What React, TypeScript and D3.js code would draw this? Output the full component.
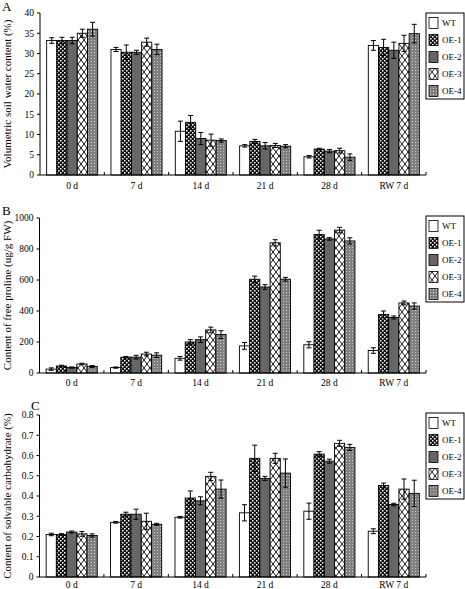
import React from "react";
import * as d3 from "d3";

const categories = ["0 d", "7 d", "14 d", "21 d", "28 d", "RW 7 d"];
const seriesNames = ["WT", "OE-1", "OE-2", "OE-3", "OE-4"];

const waterValues = [
  [33.2, 31.0, 10.8, 7.2, 4.5, 32.0],
  [33.2, 30.3, 13.0, 8.3, 6.4, 31.5],
  [33.2, 30.3, 9.0, 7.2, 5.9, 30.8],
  [35.0, 32.8, 8.6, 7.3, 6.0, 32.5],
  [36.0, 31.0, 8.5, 7.1, 4.4, 34.9],
];
const waterErrors = [
  [0.7, 0.5, 2.5, 0.3, 0.3, 1.2],
  [0.8, 1.8, 1.7, 0.5, 0.2, 2.0],
  [0.8, 0.5, 1.5, 0.8, 0.4, 2.0],
  [1.0, 1.0, 1.5, 0.5, 0.6, 2.0],
  [1.7, 1.3, 0.4, 0.4, 0.8, 2.3],
];
const waterTicks = [0, 5, 10, 15, 20, 25, 30, 35, 40];

const prolineValues = [
  [25, 35, 95, 175, 182, 145],
  [45, 102, 200, 605, 893, 378],
  [35, 102, 215, 555, 865, 358],
  [58, 122, 278, 840, 922, 452],
  [42, 115, 248, 605, 852, 432],
];
const prolineErrors = [
  [8, 4, 12, 22, 20, 18],
  [5, 5, 15, 20, 28, 22],
  [4, 12, 18, 15, 8, 10],
  [5, 12, 18, 20, 18, 12],
  [6, 15, 25, 12, 20, 20],
];
const prolineTicks = [0, 200, 400, 600, 800, 1000];

const carbValues = [
  [0.21, 0.27, 0.295, 0.317, 0.325, 0.226],
  [0.21, 0.31, 0.39, 0.586, 0.607, 0.452],
  [0.222, 0.31, 0.376, 0.487, 0.572, 0.358],
  [0.213, 0.275, 0.497, 0.586, 0.66, 0.434],
  [0.205, 0.26, 0.434, 0.513, 0.64, 0.413],
];
const carbErrors = [
  [0.006, 0.004, 0.004, 0.04, 0.04, 0.012],
  [0.004, 0.01, 0.035, 0.065, 0.012, 0.012],
  [0.005, 0.025, 0.02, 0.01, 0.01, 0.006],
  [0.012, 0.04, 0.02, 0.025, 0.015, 0.05],
  [0.008, 0.005, 0.045, 0.07, 0.015, 0.065],
];
const carbTicks = [0, 0.1, 0.2, 0.3, 0.4, 0.5, 0.6, 0.7, 0.8];

const fills = ["#ffffff", "url(#pOE1)", "#666666", "url(#pOE3)", "url(#pOE4)"];
const FONT = "'Liberation Serif', 'Times New Roman', serif";

type PanelProps = {
  letter: string;
  letterX: number;
  letterY: number;
  ylabel: string;
  values: number[][];
  errors: number[][];
  ticks: number[];
  tickFmt: (v: number) => string;
  top: number;
  bottom: number;
  left: number;
  legendTop: number;
  catLabelY: number;
};

function Panel(p: PanelProps) {
  const right = 426;
  const x = d3.scaleBand<string>().domain(categories).range([p.left, right]).paddingInner(0).paddingOuter(0);
  const inner = d3
    .scaleBand<string>()
    .domain(seriesNames)
    .range([0, x.bandwidth()])
    .paddingOuter(0.65)
    .paddingInner(0);
  const maxT = p.ticks[p.ticks.length - 1];
  const y = d3.scaleLinear().domain([0, maxT]).range([p.bottom, p.top]);
  const bw = inner.bandwidth();
  const midY = (p.top + p.bottom) / 2;
  return (
    <g>
      <text x={p.letterX} y={p.letterY} fontSize={13} fontFamily={FONT}>
        {p.letter}
      </text>
      <text
        transform={`translate(${11},${midY}) rotate(-90)`}
        textAnchor="middle"
        fontSize={11}
        fontFamily={FONT}
      >
        {p.ylabel}
      </text>
      {seriesNames.map((s, si) =>
        categories.map((c, ci) => {
          const v = p.values[si][ci];
          const e = p.errors[si][ci];
          const bx = (x(c) as number) + (inner(s) as number);
          const cx = bx + bw / 2;
          return (
            <g key={s + c}>
              <rect
                x={bx}
                y={y(v)}
                width={bw}
                height={p.bottom - y(v)}
                fill={fills[si]}
                stroke="#000"
                strokeWidth={0.9}
              />
              <line x1={cx} x2={cx} y1={y(v + e)} y2={y(Math.max(0, v - e))} stroke="#000" strokeWidth={1} />
              <line x1={cx - 2.5} x2={cx + 2.5} y1={y(v + e)} y2={y(v + e)} stroke="#000" strokeWidth={1} />
              <line
                x1={cx - 2.5}
                x2={cx + 2.5}
                y1={y(Math.max(0, v - e))}
                y2={y(Math.max(0, v - e))}
                stroke="#000"
                strokeWidth={1}
              />
            </g>
          );
        })
      )}
      <line x1={p.left} x2={p.left} y1={p.top} y2={p.bottom} stroke="#000" strokeWidth={1} />
      {p.ticks.map((t) => (
        <g key={t}>
          <line x1={p.left - 3} x2={p.left} y1={y(t)} y2={y(t)} stroke="#000" strokeWidth={1} />
          <text
            x={p.left - 6}
            y={y(t)}
            dy="0.35em"
            textAnchor="end"
            fontSize={9.5}
            fontFamily={FONT}
          >
            {p.tickFmt(t)}
          </text>
        </g>
      ))}
      <line x1={p.left} x2={right} y1={p.bottom} y2={p.bottom} stroke="#000" strokeWidth={1} />
      {categories.map((c, i) => (
        <g key={c}>
          {i > 0 && (
            <line
              x1={x(c) as number}
              x2={x(c) as number}
              y1={p.bottom}
              y2={p.bottom - 3}
              stroke="#000"
              strokeWidth={1}
            />
          )}
          <text
            x={(x(c) as number) + x.bandwidth() / 2}
            y={p.catLabelY}
            textAnchor="middle"
            fontSize={9.5}
            fontFamily={FONT}
          >
            {c}
          </text>
        </g>
      ))}
      <line x1={right} x2={right} y1={p.bottom} y2={p.bottom - 3} stroke="#000" strokeWidth={1} />
      <rect x={426} y={p.legendTop} width={38} height={86} fill="#fff" stroke="#000" strokeWidth={1} />
      {seriesNames.map((s, si) => {
        const cy = p.legendTop + 10 + si * 17;
        return (
          <g key={s}>
            <rect x={429} y={cy - 5.5} width={9} height={11} fill={fills[si]} stroke="#000" strokeWidth={0.8} />
            <text x={442} y={cy} dy="0.35em" fontSize={9} fontFamily={FONT}>
              {s}
            </text>
          </g>
        );
      })}
    </g>
  );
}

export default function App() {
  return (
    <svg
      width={465}
      height={589}
      style={{ position: "absolute", left: 0, top: 0, background: "#fff" }}
    >
      <defs>
        <pattern id="pOE1" width={4} height={4} patternUnits="userSpaceOnUse">
          <rect width={4} height={4} fill="#111" />
          <rect x={0} y={0} width={1.5} height={1.5} fill="#fff" />
          <rect x={2} y={2} width={1.5} height={1.5} fill="#fff" />
        </pattern>
        <pattern id="pOE3" width={6} height={8} patternUnits="userSpaceOnUse">
          <rect width={6} height={8} fill="#fff" />
          <path d="M0,0 L6,8 M6,0 L0,8" stroke="#000" strokeWidth={0.9} />
        </pattern>
        <pattern id="pOE4" width={3} height={3} patternUnits="userSpaceOnUse">
          <rect width={3} height={3} fill="#808080" />
          <rect x={1} y={1} width={1} height={1} fill="#cccccc" />
        </pattern>
      </defs>
      <rect width={465} height={589} fill="#fff" />
      <Panel
        letter="A"
        letterX={2}
        letterY={11}
        ylabel="Volumetric soil water content (%)"
        values={waterValues}
        errors={waterErrors}
        ticks={waterTicks}
        tickFmt={(v) => String(v)}
        top={13}
        bottom={175}
        left={40}
        legendTop={13}
        catLabelY={189}
      />
      <Panel
        letter="B"
        letterX={2}
        letterY={215}
        ylabel="Content of free proline (ug/g FW)"
        values={prolineValues}
        errors={prolineErrors}
        ticks={prolineTicks}
        tickFmt={(v) => String(v)}
        top={218}
        bottom={373}
        left={39.5}
        legendTop={216}
        catLabelY={386}
      />
      <Panel
        letter="C"
        letterX={31}
        letterY={410}
        ylabel="Content of solvable carbohydrate (%)"
        values={carbValues}
        errors={carbErrors}
        ticks={carbTicks}
        tickFmt={(v) => (v === 0 ? "0" : d3.format(".1f")(v))}
        top={415}
        bottom={577}
        left={39.5}
        legendTop={413}
        catLabelY={588}
      />
    </svg>
  );
}
